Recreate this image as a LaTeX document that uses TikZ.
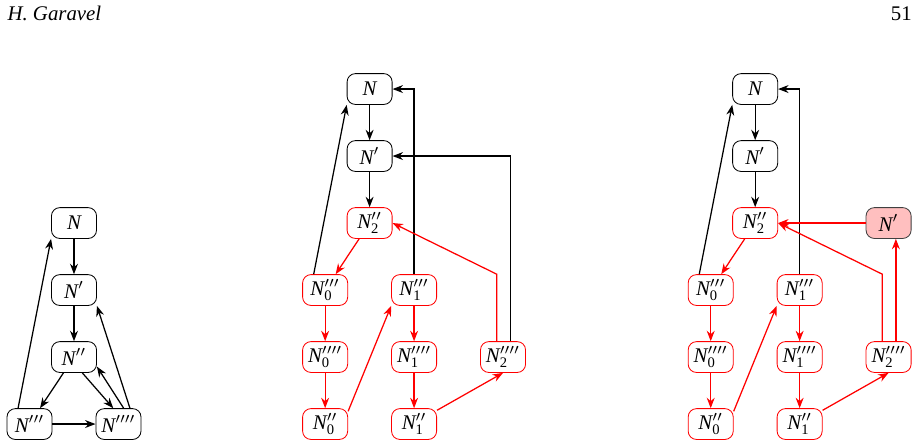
\documentclass[tikz,border=0pt]{standalone}
\usepackage{amsmath}
\usepackage{fontspec}
\setmainfont{Liberation Serif}
\usetikzlibrary{arrows.meta, calc}

\begin{document}
\begin{tikzpicture}[every node/.style={font=\normalsize},
  nbox/.style={draw, rounded corners=4pt, minimum width=0.76cm,
    minimum height=0.52cm, inner sep=1pt, line width=0.4pt},
  rbox/.style={nbox, draw=red},
  pbox/.style={nbox, draw=black!75, fill=red!25},
  arr/.style={-{Stealth[length=5pt, width=3.8pt]}, line width=0.6pt},
  rarr/.style={arr, red}]
  \def\dx{1.5}
  \def\dy{1.13}
  \def\ya{0.388}
  \def\yb{1.518}
  \def\yc{2.648}
  \def\yd{3.778}
  \def\ye{4.908}
  \def\yf{6.038}
  \def\lx{1.248}
  \def\mx{6.234}
  \def\rx{12.737}
  \useasboundingbox (0,0) rectangle (15.50,7.54);
  % page header
  \node[anchor=base west, inner sep=0pt, font=\normalsize\itshape] (author)
    at (0.12, 7.187) {H. Garavel};
  \node[anchor=base east, inner sep=0pt, font=\normalsize] (page)
    at (15.385, 7.187) {51};
  % left graph
  \node[nbox] (l-n)     at (\lx, \yd) {$\textit{N}$};
  \node[nbox] (l-np)    at (\lx, \yc) {$\textit{N}'$};
  \node[nbox] (l-npp)   at (\lx, \yb) {$\textit{N}''$};
  \node[nbox] (l-nppp)  at (\lx-\dx/2, \ya) {$\textit{N}'''$};
  \node[nbox] (l-npppp) at (\lx+\dx/2, \ya) {$\textit{N}''''$};
  \draw[arr] (l-n) -- (l-np);
  \draw[arr] (l-np) -- (l-npp);
  \draw[arr] (l-npp) -- (l-nppp);
  \draw[arr] ([xshift=4pt]l-npp.south) -- ([xshift=-2.5pt]l-npppp.north);
  \draw[arr] ([xshift=2.5pt]l-npppp.north) -- ([yshift=3pt]l-npp.south east);
  \draw[arr] (l-nppp) -- (l-npppp);
  \draw[arr] ([xshift=5.5pt]l-npppp.north) -- (l-np.south east);
  \draw[arr] ([xshift=-5.5pt]l-nppp.north) -- (l-n.south west);
  % middle graph
  \node[nbox] (m-n)      at (\mx, \yf) {$\textit{N}$};
  \node[nbox] (m-np)     at (\mx, \ye) {$\textit{N}'$};
  \node[rbox] (m-npp2)   at (\mx, \yd) {$\textit{N}''_{\textrm{2}}$};
  \node[rbox] (m-nppp0)  at (\mx-\dx/2, \yc) {$\textit{N}'''_{\textrm{0}}$};
  \node[rbox] (m-npppp0) at (\mx-\dx/2, \yb) {$\textit{N}''''_{\textrm{0}}$};
  \node[rbox] (m-npp0)   at (\mx-\dx/2, \ya) {$\textit{N}''_{\textrm{0}}$};
  \node[rbox] (m-nppp1)  at (\mx+\dx/2, \yc) {$\textit{N}'''_{\textrm{1}}$};
  \node[rbox] (m-npppp1) at (\mx+\dx/2, \yb) {$\textit{N}''''_{\textrm{1}}$};
  \node[rbox] (m-npp1)   at (\mx+\dx/2, \ya) {$\textit{N}''_{\textrm{1}}$};
  \node[rbox] (m-npppp2) at (\mx+1.5*\dx, \yb) {$\textit{N}''''_{\textrm{2}}$};
  \draw[arr] (m-n) -- (m-np);
  \draw[arr] (m-np) -- (m-npp2);
  \draw[arr] ([xshift=-5.5pt]m-nppp0.north) -- (m-n.south west);
  \draw[arr] (m-nppp1.north) |- (m-n.east);
  \draw[arr] ([xshift=3.5pt]m-npppp2.north) |- (m-np.east);
  \draw[rarr] (m-npp2) -- (m-nppp0);
  \draw[rarr] (m-nppp0) -- (m-npppp0);
  \draw[rarr] (m-npppp0) -- (m-npp0);
  \draw[rarr] ([yshift=-1.5pt]m-npp0.north east) -- (m-nppp1.south west);
  \draw[rarr] (m-nppp1) -- (m-npppp1);
  \draw[rarr] (m-npppp1) -- (m-npp1);
  \draw[rarr] ([yshift=-1pt]m-npp1.north east) -- (m-npppp2.south);
  \draw[rarr] ([xshift=-3pt]m-npppp2.north) -- ++(0,\dy) -- (m-npp2.east);
  % right graph
  \node[nbox] (r-n)      at (\rx, \yf) {$\textit{N}$};
  \node[nbox] (r-np)     at (\rx, \ye) {$\textit{N}'$};
  \node[rbox] (r-npp2)   at (\rx, \yd) {$\textit{N}''_{\textrm{2}}$};
  \node[pbox] (r-new)    at (\rx+1.5*\dx, \yd) {$\textit{N}'$};
  \node[rbox] (r-nppp0)  at (\rx-\dx/2, \yc) {$\textit{N}'''_{\textrm{0}}$};
  \node[rbox] (r-npppp0) at (\rx-\dx/2, \yb) {$\textit{N}''''_{\textrm{0}}$};
  \node[rbox] (r-npp0)   at (\rx-\dx/2, \ya) {$\textit{N}''_{\textrm{0}}$};
  \node[rbox] (r-nppp1)  at (\rx+\dx/2, \yc) {$\textit{N}'''_{\textrm{1}}$};
  \node[rbox] (r-npppp1) at (\rx+\dx/2, \yb) {$\textit{N}''''_{\textrm{1}}$};
  \node[rbox] (r-npp1)   at (\rx+\dx/2, \ya) {$\textit{N}''_{\textrm{1}}$};
  \node[rbox] (r-npppp2) at (\rx+1.5*\dx, \yb) {$\textit{N}''''_{\textrm{2}}$};
  \draw[arr] (r-n) -- (r-np);
  \draw[arr] (r-np) -- (r-npp2);
  \draw[arr] ([xshift=-5.5pt]r-nppp0.north) -- (r-n.south west);
  \draw[arr] (r-nppp1.north) |- (r-n.east);
  \draw[rarr] (r-new) -- (r-npp2);
  \draw[rarr] ([xshift=3.5pt]r-npppp2.north) -- ([xshift=3.5pt]r-new.south);
  \draw[rarr] (r-npp2) -- (r-nppp0);
  \draw[rarr] (r-nppp0) -- (r-npppp0);
  \draw[rarr] (r-npppp0) -- (r-npp0);
  \draw[rarr] ([yshift=-1.5pt]r-npp0.north east) -- (r-nppp1.south west);
  \draw[rarr] (r-nppp1) -- (r-npppp1);
  \draw[rarr] (r-npppp1) -- (r-npp1);
  \draw[rarr] ([yshift=-1pt]r-npp1.north east) -- (r-npppp2.south);
  \draw[rarr] ([xshift=-3pt]r-npppp2.north) -- ++(0,\dy) -- (r-npp2.east);
\end{tikzpicture}
\end{document}
